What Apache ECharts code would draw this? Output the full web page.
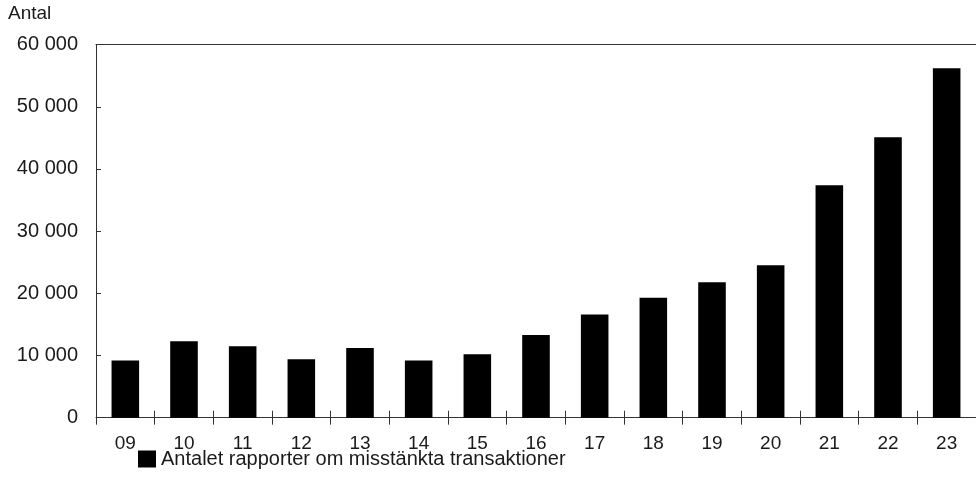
<!DOCTYPE html>
<html><head><meta charset="utf-8">
<script src="https://cdn.jsdelivr.net/npm/echarts@6/dist/echarts.min.js"></script>
<style>html,body{margin:0;padding:0;background:#fff}#c{width:976px;height:502px}</style>
</head><body><div id="c"></div>
<script>
const categories = ['09','10','11','12','13','14','15','16','17','18','19','20','21','22','23'];
const reports = [9200, 12300, 11500, 9400, 11200, 9200, 10200, 13300, 16600, 19300, 21800, 24500, 37400, 45100, 56200];
const seriesName = 'Antalet rapporter om misstänkta transaktioner';
const yTicks = [0, 10000, 20000, 30000, 40000, 50000, 60000];

const font = 'Liberation Sans, Arial, sans-serif';
const chart = echarts.init(document.getElementById('c'));
function fmt(v){ return String(v).replace(/\B(?=(\d{3})+(?!\d))/g, ' '); }
const lineCol = '#333';
const txt = '#1a1a1a';
chart.setOption({
  animation: false,
  textStyle: { fontFamily: font },
  grid: { left: 96, right: 0, top: 44.6, bottom: 84.3 },
  graphic: [{ type: 'text', left: 8, top: 4, style: { text: 'Antal', font: '19px ' + font, fill: txt } }],
  legend: {
    left: 138, top: 449, padding: 0, itemWidth: 18, itemHeight: 17, itemGap: 4,
    icon: 'rect',
    textStyle: { fontSize: 20, color: txt, fontFamily: font },
    data: [seriesName]
  },
  xAxis: [
    { type: 'category', data: categories, position: 'bottom',
      axisLine: { lineStyle: { color: lineCol, width: 1 } },
      axisTick: { show: true, length: 7, lineStyle: { color: lineCol } },
      axisLabel: { fontSize: 19, color: txt, margin: 17, fontFamily: font } },
    { type: 'category', data: categories, position: 'bottom',
      axisLine: { show: false },
      axisTick: { show: true, inside: true, length: 7, lineStyle: { color: lineCol } },
      axisLabel: { show: false } },
    { type: 'category', data: categories, position: 'top',
      axisLine: { show: true, lineStyle: { color: lineCol, width: 1 } },
      axisTick: { show: false }, axisLabel: { show: false } }
  ],
  yAxis: {
    type: 'value', min: yTicks[0], max: yTicks[yTicks.length-1], interval: yTicks[1]-yTicks[0],
    axisLine: { show: true, lineStyle: { color: lineCol } },
    axisTick: { show: true, inside: true, length: 5, lineStyle: { color: lineCol } },
    splitLine: { show: false },
    axisLabel: { fontSize: 20, color: txt, margin: 18, fontFamily: font, formatter: fmt }
  },
  series: [{
    name: seriesName, type: 'bar', data: reports, xAxisIndex: 0,
    barWidth: '47%', itemStyle: { color: '#000' }
  }]
});
</script></body></html>
